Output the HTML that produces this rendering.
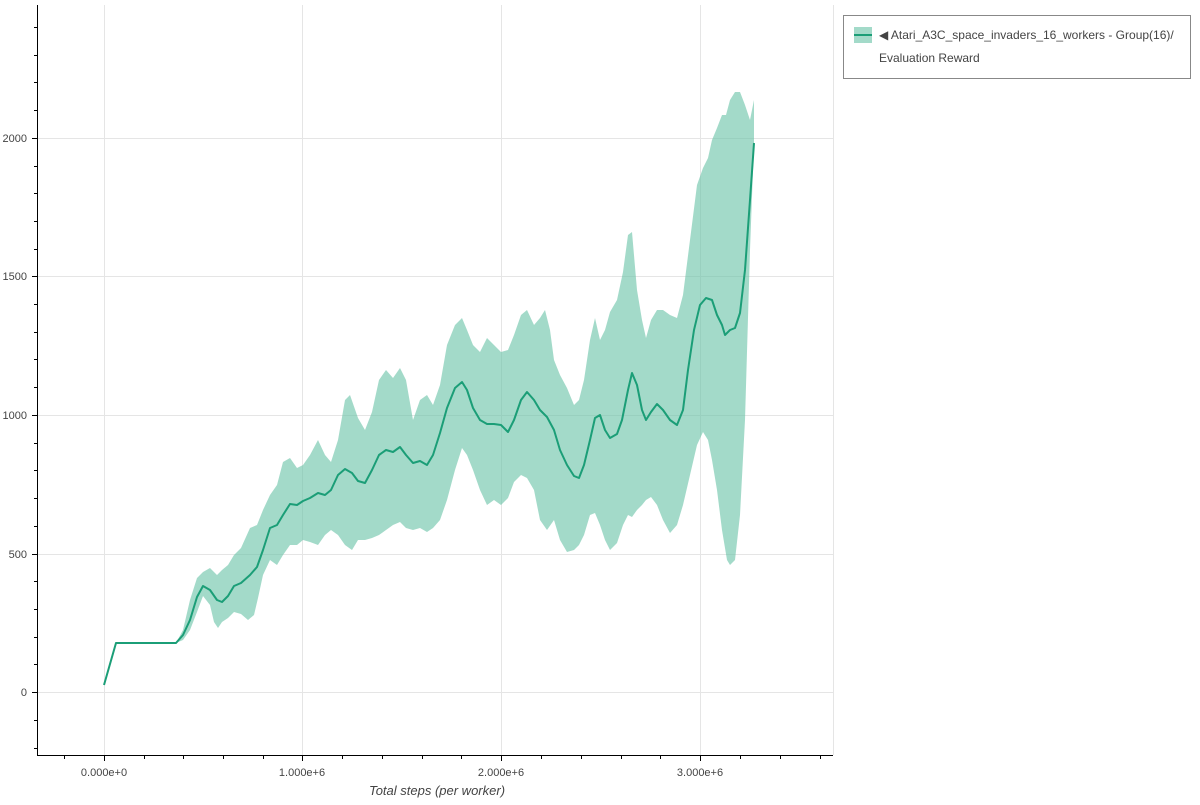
<!DOCTYPE html>
<html><head><meta charset="utf-8"><style>
body{margin:0;background:#fff;width:1200px;height:800px;overflow:hidden;font-family:"Liberation Sans",sans-serif}
</style></head><body>
<svg width="1200" height="800" xmlns="http://www.w3.org/2000/svg" font-family="Liberation Sans, sans-serif">
<g stroke="#e5e5e5" stroke-width="1">
<line x1="104.5" y1="5" x2="104.5" y2="755"/><line x1="302.5" y1="5" x2="302.5" y2="755"/><line x1="501.5" y1="5" x2="501.5" y2="755"/><line x1="700.5" y1="5" x2="700.5" y2="755"/>
<line x1="38" y1="692.5" x2="833" y2="692.5"/><line x1="38" y1="554.5" x2="833" y2="554.5"/><line x1="38" y1="415.5" x2="833" y2="415.5"/><line x1="38" y1="276.5" x2="833" y2="276.5"/><line x1="38" y1="138.5" x2="833" y2="138.5"/>
<line x1="833.5" y1="5" x2="833.5" y2="755"/>
</g>
<polygon fill="#66c2a5" fill-opacity="0.6" points="176,643 183,630 190,600 197,578 203,572 210,568 217,575 222,570 228,565 234,555 241,548 250,528 257,525 263,510 270,495 277,485 283,462 290,458 297,468 303,465 310,455 318,440 325,455 331,462 338,440 345,400 350,395 358,418 365,430 372,412 379,380 386,370 393,378 400,368 406,380 413,420 420,400 427,395 433,405 440,385 447,345 455,325 462,318 467,330 473,345 480,352 487,338 494,345 501,352 508,350 514,335 521,315 527,310 534,325 540,318 545,310 550,330 554,360 560,375 567,388 574,405 579,400 584,380 590,340 595,318 600,340 605,330 610,312 617,300 623,272 628,235 632,232 637,290 642,320 646,338 651,320 657,310 663,310 670,315 677,318 683,295 690,240 697,185 703,168 708,158 712,140 717,128 722,115 726,115 730,100 735,92 740,92 745,105 750,120 754,100 754,143 750,250 745,420 740,515 735,560 730,565 727,560 722,530 717,490 712,460 708,440 703,432 697,445 690,475 683,505 677,525 670,533 663,520 657,505 651,497 646,500 642,505 637,510 632,517 628,515 623,525 617,543 610,550 605,540 600,525 595,513 590,515 584,535 579,545 574,550 567,552 560,540 554,520 547,530 540,520 534,490 527,478 521,475 514,482 508,498 501,505 494,500 487,505 480,490 473,470 467,455 462,448 455,470 447,500 440,520 433,528 427,532 420,528 413,530 406,528 400,522 393,525 386,530 379,535 372,538 365,540 358,540 352,550 345,545 338,535 331,530 325,535 318,545 310,542 303,540 297,545 290,545 283,555 277,565 270,560 263,575 258,598 254,615 248,620 241,614 234,612 228,618 222,622 218,628 214,622 210,605 203,596 197,612 190,630 183,640"/>
<polyline fill="none" stroke="#1b9e77" stroke-width="2" stroke-linejoin="round" points="104,685 116,643 176,643 183,635 190,620 197,597 203,586 210,590 217,600 222,602 228,596 234,586 241,583 250,575 257,567 263,550 270,528 277,525 283,515 290,504 297,505 303,501 310,498 318,493 325,495 331,490 338,475 345,469 352,473 358,481 365,483 372,470 379,455 386,450 393,452 400,447 406,455 413,463 420,461 427,465 433,455 440,433 447,408 455,388 462,382 467,390 473,408 480,420 487,424 494,424 501,425 508,432 514,420 521,400 527,392 534,400 540,410 547,417 554,430 560,450 567,465 574,476 579,478 584,465 590,440 595,418 600,415 605,430 610,438 617,434 622,420 628,390 632,373 637,385 642,410 646,420 651,412 657,404 663,410 670,420 677,425 683,410 688,370 694,330 700,305 706,298 712,300 717,315 722,325 725,335 730,330 735,328 740,313 745,270 750,200 754,143"/>
<g stroke="#000" stroke-width="1">
<line x1="37.5" y1="5" x2="37.5" y2="756"/><line x1="37" y1="755.5" x2="833" y2="755.5"/>
<line x1="32" y1="692.5" x2="38" y2="692.5"/><line x1="32" y1="554.5" x2="38" y2="554.5"/><line x1="32" y1="415.5" x2="38" y2="415.5"/><line x1="32" y1="276.5" x2="38" y2="276.5"/><line x1="32" y1="138.5" x2="38" y2="138.5"/>
<line x1="34" y1="748.5" x2="38" y2="748.5"/><line x1="34" y1="720.5" x2="38" y2="720.5"/><line x1="34" y1="664.5" x2="38" y2="664.5"/><line x1="34" y1="637.5" x2="38" y2="637.5"/><line x1="34" y1="609.5" x2="38" y2="609.5"/><line x1="34" y1="581.5" x2="38" y2="581.5"/>
<line x1="34" y1="526.5" x2="38" y2="526.5"/><line x1="34" y1="498.5" x2="38" y2="498.5"/><line x1="34" y1="470.5" x2="38" y2="470.5"/><line x1="34" y1="443.5" x2="38" y2="443.5"/>
<line x1="34" y1="387.5" x2="38" y2="387.5"/><line x1="34" y1="359.5" x2="38" y2="359.5"/><line x1="34" y1="332.5" x2="38" y2="332.5"/><line x1="34" y1="304.5" x2="38" y2="304.5"/>
<line x1="34" y1="249.5" x2="38" y2="249.5"/><line x1="34" y1="221.5" x2="38" y2="221.5"/><line x1="34" y1="193.5" x2="38" y2="193.5"/><line x1="34" y1="166.5" x2="38" y2="166.5"/>
<line x1="34" y1="110.5" x2="38" y2="110.5"/><line x1="34" y1="82.5" x2="38" y2="82.5"/><line x1="34" y1="55.5" x2="38" y2="55.5"/><line x1="34" y1="27.5" x2="38" y2="27.5"/>
<line x1="104.5" y1="755" x2="104.5" y2="761"/><line x1="302.5" y1="755" x2="302.5" y2="761"/><line x1="501.5" y1="755" x2="501.5" y2="761"/><line x1="700.5" y1="755" x2="700.5" y2="761"/>
<line x1="64.5" y1="755" x2="64.5" y2="759"/><line x1="144.5" y1="755" x2="144.5" y2="759"/><line x1="183.5" y1="755" x2="183.5" y2="759"/><line x1="223.5" y1="755" x2="223.5" y2="759"/><line x1="263.5" y1="755" x2="263.5" y2="759"/>
<line x1="342.5" y1="755" x2="342.5" y2="759"/><line x1="382.5" y1="755" x2="382.5" y2="759"/><line x1="422.5" y1="755" x2="422.5" y2="759"/><line x1="461.5" y1="755" x2="461.5" y2="759"/>
<line x1="541.5" y1="755" x2="541.5" y2="759"/><line x1="581.5" y1="755" x2="581.5" y2="759"/><line x1="621.5" y1="755" x2="621.5" y2="759"/><line x1="660.5" y1="755" x2="660.5" y2="759"/>
<line x1="740.5" y1="755" x2="740.5" y2="759"/><line x1="780.5" y1="755" x2="780.5" y2="759"/><line x1="820.5" y1="755" x2="820.5" y2="759"/>
</g>
<g fill="#444" font-size="11" text-anchor="end">
<text x="27" y="696">0</text><text x="27" y="558">500</text><text x="27" y="419">1000</text><text x="27" y="280">1500</text><text x="27" y="142">2000</text>
</g>
<g fill="#444" font-size="11" text-anchor="middle">
<text x="104" y="776">0.000e+0</text><text x="302" y="776">1.000e+6</text><text x="501" y="776">2.000e+6</text><text x="700" y="776">3.000e+6</text>
</g>
<text x="437" y="795" font-size="13" font-style="italic" fill="#444" text-anchor="middle">Total steps (per worker)</text>
<rect x="843.5" y="15.5" width="347" height="63" fill="#fff" stroke="#888"/>
<rect x="854" y="27" width="18" height="16" fill="#66c2a5" fill-opacity="0.6"/>
<line x1="854" y1="35" x2="872" y2="35" stroke="#1b9e77" stroke-width="2"/>
<text x="879" y="39" font-size="12" fill="#444">◀ Atari_A3C_space_invaders_16_workers - Group(16)/</text>
<text x="879" y="62" font-size="12" fill="#444">Evaluation Reward</text>
</svg>
</body></html>
